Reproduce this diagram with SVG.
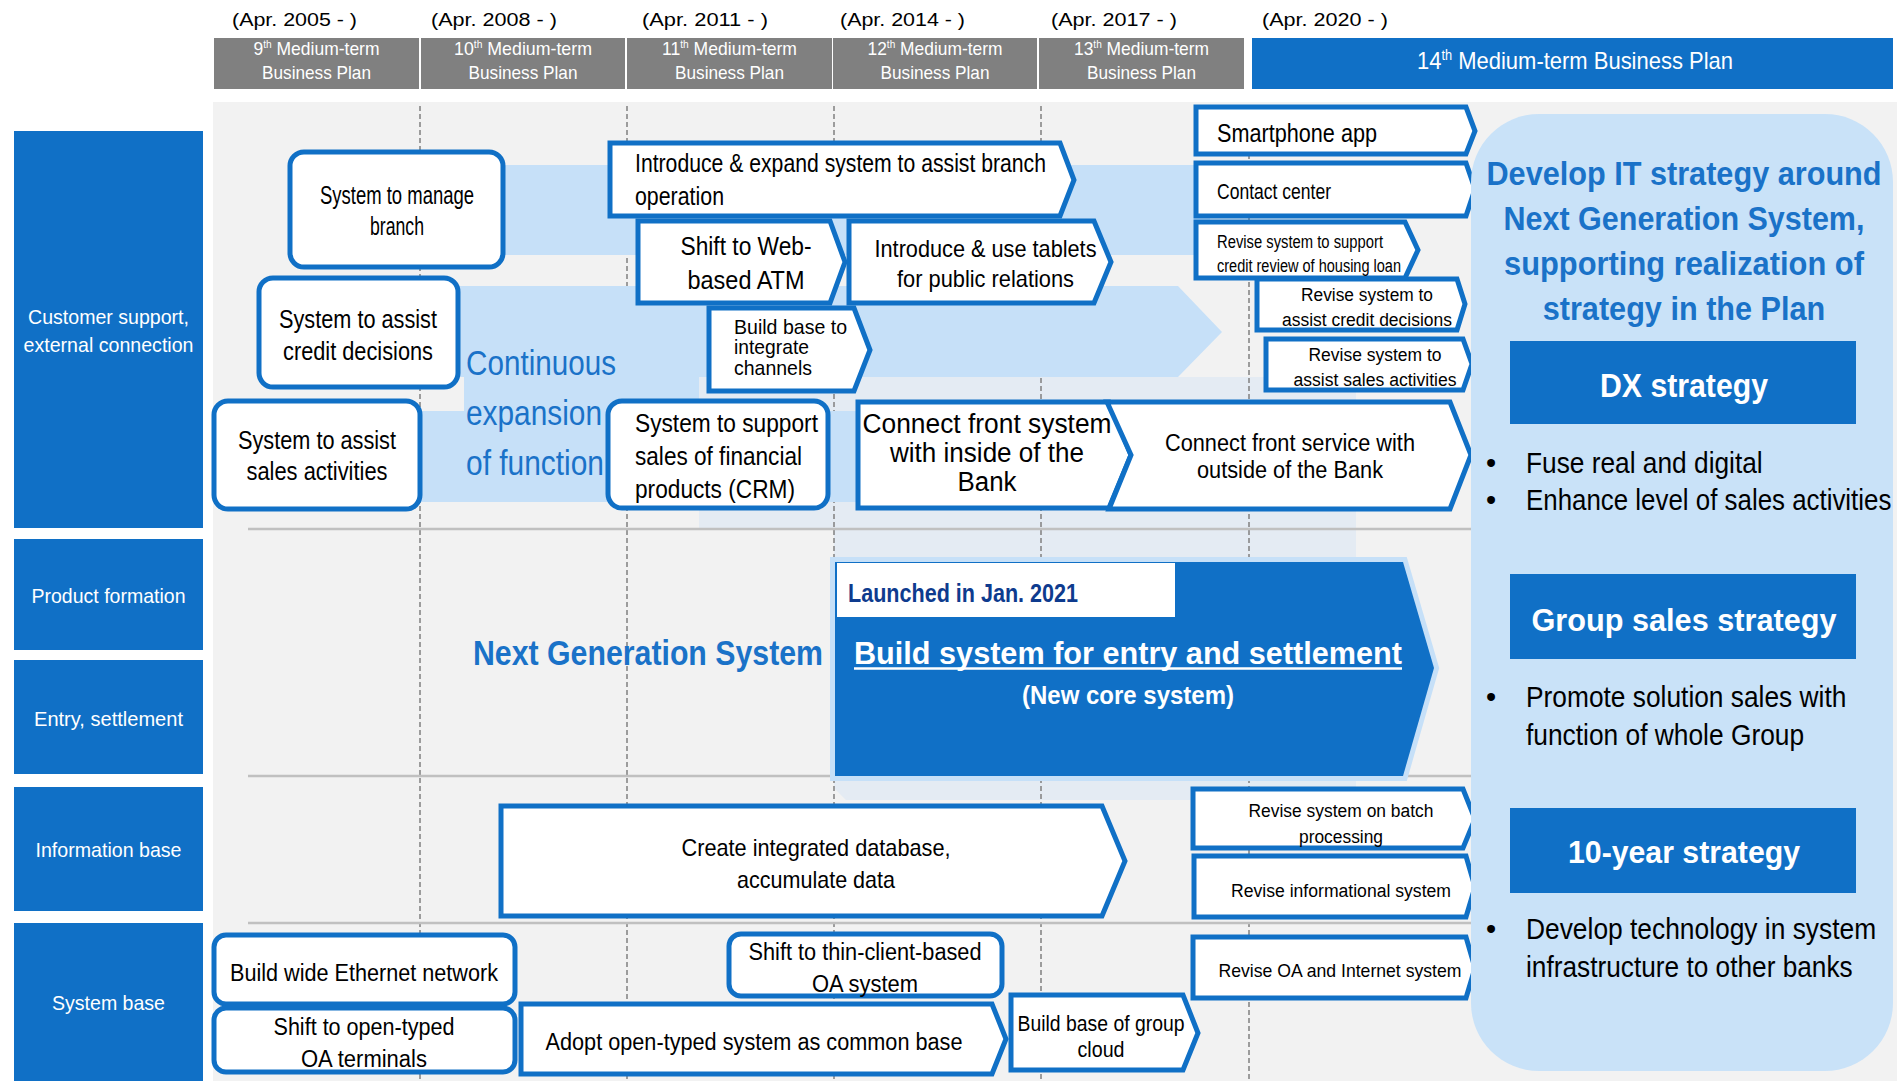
<svg xmlns="http://www.w3.org/2000/svg" width="1897" height="1081" viewBox="0 0 1897 1081">
<style>
.t{font-family:"Liberation Sans Narrow","Liberation Sans",Arial,sans-serif;fill:#000}
.w{fill:#fff}
.b{font-weight:bold}
.bl{fill:#1a72c8}
.box{fill:#fff;stroke:#1070c6;stroke-width:5;stroke-linejoin:miter}
.band{fill:#c6e0f8}
.lane{fill:#1070c6}
.hdr{fill:#808080}
.vd{stroke:#808080;stroke-width:1.5;stroke-dasharray:5 3;fill:none}
.hl{stroke:#c0c0c0;stroke-width:2.5;fill:none}
.sbox{fill:#1070c6}
</style>
<rect x="0" y="0" width="1897" height="1081" fill="#fff"/>
<rect x="213" y="102" width="1684" height="979" fill="#f2f2f2"/>
<polygon points="699,377 1356,377 1356,800 846,800 834,788 834,530 699,530" fill="#e4ebf3"/>
<g id="grid">
<line class="vd" x1="420" y1="106" x2="420" y2="1081"/>
<line class="vd" x1="627" y1="106" x2="627" y2="1081"/>
<line class="vd" x1="834" y1="106" x2="834" y2="1081"/>
<line class="vd" x1="1041" y1="106" x2="1041" y2="1081"/>
<line class="vd" x1="1249" y1="106" x2="1249" y2="1081"/>
<line class="hl" x1="248" y1="529" x2="1471" y2="529"/>
<line class="hl" x1="248" y1="776" x2="1471" y2="776"/>
<line class="hl" x1="248" y1="923" x2="1471" y2="923"/>
</g>
<g id="header">
<text class="t" x="232" y="26" font-size="18" textLength="125" lengthAdjust="spacingAndGlyphs">(Apr. 2005 - )</text>
<text class="t" x="431" y="26" font-size="18" textLength="126" lengthAdjust="spacingAndGlyphs">(Apr. 2008 - )</text>
<text class="t" x="642" y="26" font-size="18" textLength="126" lengthAdjust="spacingAndGlyphs">(Apr. 2011 - )</text>
<text class="t" x="840" y="26" font-size="18" textLength="125" lengthAdjust="spacingAndGlyphs">(Apr. 2014 - )</text>
<text class="t" x="1051" y="26" font-size="18" textLength="126" lengthAdjust="spacingAndGlyphs">(Apr. 2017 - )</text>
<text class="t" x="1262" y="26" font-size="18" textLength="126" lengthAdjust="spacingAndGlyphs">(Apr. 2020 - )</text>
<rect class="hdr" x="214" y="38" width="205" height="51"/>
<rect class="hdr" x="421" y="38" width="204" height="51"/>
<rect class="hdr" x="627" y="38" width="205" height="51"/>
<rect class="hdr" x="833" y="38" width="204" height="51"/>
<rect class="hdr" x="1039" y="38" width="205" height="51"/>
<rect class="sbox" x="1252" y="38" width="641" height="51"/>
<text class="t w" x="316.5" y="55" font-size="19" text-anchor="middle" textLength="126" lengthAdjust="spacingAndGlyphs">9<tspan font-size="11" dy="-7">th</tspan><tspan dy="7"> Medium-term</tspan></text>
<text class="t w" x="316.5" y="79" font-size="19" text-anchor="middle" textLength="109" lengthAdjust="spacingAndGlyphs">Business Plan</text>
<text class="t w" x="523" y="55" font-size="19" text-anchor="middle" textLength="138" lengthAdjust="spacingAndGlyphs">10<tspan font-size="11" dy="-7">th</tspan><tspan dy="7"> Medium-term</tspan></text>
<text class="t w" x="523" y="79" font-size="19" text-anchor="middle" textLength="109" lengthAdjust="spacingAndGlyphs">Business Plan</text>
<text class="t w" x="729.5" y="55" font-size="19" text-anchor="middle" textLength="135" lengthAdjust="spacingAndGlyphs">11<tspan font-size="11" dy="-7">th</tspan><tspan dy="7"> Medium-term</tspan></text>
<text class="t w" x="729.5" y="79" font-size="19" text-anchor="middle" textLength="109" lengthAdjust="spacingAndGlyphs">Business Plan</text>
<text class="t w" x="935" y="55" font-size="19" text-anchor="middle" textLength="135" lengthAdjust="spacingAndGlyphs">12<tspan font-size="11" dy="-7">th</tspan><tspan dy="7"> Medium-term</tspan></text>
<text class="t w" x="935" y="79" font-size="19" text-anchor="middle" textLength="109" lengthAdjust="spacingAndGlyphs">Business Plan</text>
<text class="t w" x="1141.5" y="55" font-size="19" text-anchor="middle" textLength="135" lengthAdjust="spacingAndGlyphs">13<tspan font-size="11" dy="-7">th</tspan><tspan dy="7"> Medium-term</tspan></text>
<text class="t w" x="1141.5" y="79" font-size="19" text-anchor="middle" textLength="109" lengthAdjust="spacingAndGlyphs">Business Plan</text>
<text class="t w" x="1575" y="69" font-size="24" text-anchor="middle" textLength="316" lengthAdjust="spacingAndGlyphs">14<tspan font-size="14" dy="-9">th</tspan><tspan dy="9"> Medium-term Business Plan</tspan></text>
</g>
<g id="lanes">
<g id="lane-customer"><rect class="lane" x="14" y="131" width="189" height="397"/>
<text class="t w" x="108.5" y="324" font-size="21" text-anchor="middle" textLength="161" lengthAdjust="spacingAndGlyphs">Customer support,</text>
<text class="t w" x="108.5" y="352" font-size="21" text-anchor="middle" textLength="170" lengthAdjust="spacingAndGlyphs">external connection</text></g>
<g id="lane-product"><rect class="lane" x="14" y="539" width="189" height="111"/>
<text class="t w" x="108.5" y="603" font-size="21" text-anchor="middle" textLength="154" lengthAdjust="spacingAndGlyphs">Product formation</text></g>
<g id="lane-entry"><rect class="lane" x="14" y="660" width="189" height="114"/>
<text class="t w" x="108.5" y="726" font-size="21" text-anchor="middle" textLength="149" lengthAdjust="spacingAndGlyphs">Entry, settlement</text></g>
<g id="lane-info"><rect class="lane" x="14" y="787" width="189" height="124"/>
<text class="t w" x="108.5" y="857" font-size="21" text-anchor="middle" textLength="146" lengthAdjust="spacingAndGlyphs">Information base</text></g>
<g id="lane-system"><rect class="lane" x="14" y="923" width="189" height="158"/>
<text class="t w" x="108.5" y="1010" font-size="21" text-anchor="middle" textLength="113" lengthAdjust="spacingAndGlyphs">System base</text></g>
</g>
<g id="connectors">
<rect class="band" x="495" y="165" width="715" height="90"/>
<polygon class="band" points="455,286 1178,286 1222,332 1178,377 699,377 699,411 1200,411 1200,502 420,502 420,411 464,411 464,377 455,377"/>
</g>
<g id="continuous-label">
<text class="t bl" x="466" y="375" font-size="35" textLength="150" lengthAdjust="spacingAndGlyphs">Continuous</text>
<text class="t bl" x="466" y="425" font-size="35" textLength="136" lengthAdjust="spacingAndGlyphs">expansion</text>
<text class="t bl" x="466" y="475" font-size="35" textLength="138" lengthAdjust="spacingAndGlyphs">of function</text>
</g>
<g id="n-manage-branch"><rect class="box" x="290" y="152" width="213" height="115" rx="14"/>
<text class="t" x="397" y="204" font-size="25" text-anchor="middle" textLength="154" lengthAdjust="spacingAndGlyphs">System to manage</text>
<text class="t" x="397" y="235" font-size="25" text-anchor="middle" textLength="54" lengthAdjust="spacingAndGlyphs">branch</text></g>
<g id="n-credit"><rect class="box" x="259" y="278" width="199" height="109" rx="14"/>
<text class="t" x="358" y="328" font-size="25" text-anchor="middle" textLength="158" lengthAdjust="spacingAndGlyphs">System to assist</text>
<text class="t" x="358" y="360" font-size="25" text-anchor="middle" textLength="150" lengthAdjust="spacingAndGlyphs">credit decisions</text></g>
<g id="n-sales"><rect class="box" x="214" y="401" width="206" height="108" rx="14"/>
<text class="t" x="317" y="449" font-size="25" text-anchor="middle" textLength="158" lengthAdjust="spacingAndGlyphs">System to assist</text>
<text class="t" x="317" y="480" font-size="25" text-anchor="middle" textLength="141" lengthAdjust="spacingAndGlyphs">sales activities</text></g>
<g id="n-introduce"><polygon class="box" points="610,143 1060,143 1074,180 1060,216 610,216"/>
<text class="t" x="635" y="172" font-size="25" textLength="411" lengthAdjust="spacingAndGlyphs">Introduce &amp; expand system to assist branch</text>
<text class="t" x="635" y="205" font-size="25" textLength="89" lengthAdjust="spacingAndGlyphs">operation</text></g>
<g id="n-atm"><polygon class="box" points="638,221 830,221 845,262 830,303 638,303"/>
<text class="t" x="746" y="255" font-size="26" text-anchor="middle" textLength="131" lengthAdjust="spacingAndGlyphs">Shift to Web-</text>
<text class="t" x="746" y="289" font-size="26" text-anchor="middle" textLength="117" lengthAdjust="spacingAndGlyphs">based ATM</text></g>
<g id="n-tablets"><polygon class="box" points="849,221 1094,221 1111,262 1094,303 849,303"/>
<text class="t" x="985.5" y="257" font-size="24" text-anchor="middle" textLength="222" lengthAdjust="spacingAndGlyphs">Introduce &amp; use tablets</text>
<text class="t" x="985.5" y="287" font-size="24" text-anchor="middle" textLength="177" lengthAdjust="spacingAndGlyphs">for public relations</text></g>
<g id="n-channels"><polygon class="box" points="709,308 854,308 870,350 854,391 709,391"/>
<text class="t" x="734" y="334" font-size="21" textLength="113" lengthAdjust="spacingAndGlyphs">Build base to</text>
<text class="t" x="734" y="354" font-size="21" textLength="75" lengthAdjust="spacingAndGlyphs">integrate</text>
<text class="t" x="734" y="375" font-size="21" textLength="78" lengthAdjust="spacingAndGlyphs">channels</text></g>
<g id="n-crm"><rect class="box" x="608" y="401" width="220" height="107" rx="14"/>
<text class="t" x="635" y="432" font-size="25" textLength="183" lengthAdjust="spacingAndGlyphs">System to support</text>
<text class="t" x="635" y="465" font-size="25" textLength="167" lengthAdjust="spacingAndGlyphs">sales of financial</text>
<text class="t" x="635" y="498" font-size="25" textLength="160" lengthAdjust="spacingAndGlyphs">products (CRM)</text></g>
<g id="n-front-inside"><polygon class="box" points="858,402 1109,402 1131,455 1109,508 858,508"/>
<text class="t" x="987" y="433" font-size="27" text-anchor="middle" textLength="249" lengthAdjust="spacingAndGlyphs">Connect front system</text>
<text class="t" x="987" y="462" font-size="27" text-anchor="middle" textLength="194" lengthAdjust="spacingAndGlyphs">with inside of the</text>
<text class="t" x="987" y="491" font-size="27" text-anchor="middle" textLength="59" lengthAdjust="spacingAndGlyphs">Bank</text></g>
<g id="n-front-outside"><polygon class="box" points="1107,402 1450,402 1471,455 1450,509 1109,509 1131,455"/>
<text class="t" x="1290" y="451" font-size="23" text-anchor="middle" textLength="250" lengthAdjust="spacingAndGlyphs">Connect front service with</text>
<text class="t" x="1290" y="478" font-size="23" text-anchor="middle" textLength="186" lengthAdjust="spacingAndGlyphs">outside of the Bank</text></g>
<g id="n-smartphone"><polygon class="box" points="1196,107 1466,107 1475,131 1466,154 1196,154"/>
<text class="t" x="1217" y="142" font-size="25" textLength="160" lengthAdjust="spacingAndGlyphs">Smartphone app</text></g>
<g id="n-contact"><polygon class="box" points="1196,163 1466,163 1475,189 1466,216 1196,216"/>
<text class="t" x="1217" y="199" font-size="22" textLength="114" lengthAdjust="spacingAndGlyphs">Contact center</text></g>
<g id="n-housing"><polygon class="box" points="1196,222 1405,222 1418,250 1405,278 1196,278"/>
<text class="t" x="1217" y="248" font-size="18" textLength="166" lengthAdjust="spacingAndGlyphs">Revise system to support</text>
<text class="t" x="1217" y="272" font-size="18" textLength="184" lengthAdjust="spacingAndGlyphs">credit review of housing loan</text></g>
<g id="n-revise-credit"><polygon class="box" points="1257,279 1457,279 1465,304 1457,330 1257,330"/>
<text class="t" x="1367" y="301" font-size="18" text-anchor="middle" textLength="132" lengthAdjust="spacingAndGlyphs">Revise system to</text>
<text class="t" x="1367" y="326" font-size="18" text-anchor="middle" textLength="170" lengthAdjust="spacingAndGlyphs">assist credit decisions</text></g>
<g id="n-revise-sales"><polygon class="box" points="1266,339 1463,339 1472,364 1463,390 1266,390"/>
<text class="t" x="1375" y="361" font-size="18" text-anchor="middle" textLength="133" lengthAdjust="spacingAndGlyphs">Revise system to</text>
<text class="t" x="1375" y="386" font-size="18" text-anchor="middle" textLength="163" lengthAdjust="spacingAndGlyphs">assist sales activities</text></g>
<g id="next-gen-label">
<text class="t bl b" x="473" y="665" font-size="35" textLength="350" lengthAdjust="spacingAndGlyphs">Next Generation System</text>
</g>
<g id="n-core">
<polygon points="835,562 1403,562 1434,668 1403,776 835,776" fill="#1070c6" stroke="#c6e0f8" stroke-width="10" stroke-linejoin="miter" paint-order="stroke"/>
<rect x="837" y="563" width="338" height="54" fill="#fff"/>
<text class="t b" x="848" y="602" font-size="25" style="fill:#0e3b8e" textLength="230" lengthAdjust="spacingAndGlyphs">Launched in Jan. 2021</text>
<text class="t w b" x="854" y="664" font-size="32" textLength="548" lengthAdjust="spacingAndGlyphs">Build system for entry and settlement</text>
<line x1="854" y1="668.5" x2="1402" y2="668.5" stroke="#fff" stroke-width="2.5"/>
<text class="t w b" x="1128" y="704" font-size="25" text-anchor="middle" textLength="212" lengthAdjust="spacingAndGlyphs">(New core system)</text>
</g>
<g id="n-database"><polygon class="box" points="501,806 1102,806 1125,861 1102,916 501,916"/>
<text class="t" x="816" y="856" font-size="24" text-anchor="middle" textLength="269" lengthAdjust="spacingAndGlyphs">Create integrated database,</text>
<text class="t" x="816" y="888" font-size="24" text-anchor="middle" textLength="158" lengthAdjust="spacingAndGlyphs">accumulate data</text></g>
<g id="n-batch"><polygon class="box" points="1193,789 1463,789 1475,819 1463,848 1193,848"/>
<text class="t" x="1341" y="817" font-size="18" text-anchor="middle" textLength="185" lengthAdjust="spacingAndGlyphs">Revise system on batch</text>
<text class="t" x="1341" y="843" font-size="18" text-anchor="middle" textLength="84" lengthAdjust="spacingAndGlyphs">processing</text></g>
<g id="n-informational"><polygon class="box" points="1194,856 1466,856 1475,887 1466,917 1194,917"/>
<text class="t" x="1341" y="897" font-size="18" text-anchor="middle" textLength="220" lengthAdjust="spacingAndGlyphs">Revise informational system</text></g>
<g id="n-oa-internet"><polygon class="box" points="1193,937 1466,937 1475,968 1466,998 1193,998"/>
<text class="t" x="1340" y="977" font-size="19" text-anchor="middle" textLength="243" lengthAdjust="spacingAndGlyphs">Revise OA and Internet system</text></g>
<g id="n-ethernet"><rect class="box" x="214" y="935" width="301" height="69" rx="12"/>
<text class="t" x="364" y="981" font-size="23" text-anchor="middle" textLength="268" lengthAdjust="spacingAndGlyphs">Build wide Ethernet network</text></g>
<g id="n-oa-terminals"><rect class="box" x="214" y="1008" width="301" height="64" rx="12"/>
<text class="t" x="364" y="1035" font-size="23" text-anchor="middle" textLength="181" lengthAdjust="spacingAndGlyphs">Shift to open-typed</text>
<text class="t" x="364" y="1067" font-size="23" text-anchor="middle" textLength="126" lengthAdjust="spacingAndGlyphs">OA terminals</text></g>
<g id="n-common-base"><polygon class="box" points="521,1004 992,1004 1006,1039 992,1074 521,1074"/>
<text class="t" x="754" y="1050" font-size="23" text-anchor="middle" textLength="417" lengthAdjust="spacingAndGlyphs">Adopt open-typed system as common base</text></g>
<g id="n-thin-client"><rect class="box" x="729" y="934" width="273" height="62" rx="12"/>
<text class="t" x="865" y="960" font-size="23" text-anchor="middle" textLength="233" lengthAdjust="spacingAndGlyphs">Shift to thin-client-based</text>
<text class="t" x="865" y="992" font-size="23" text-anchor="middle" textLength="106" lengthAdjust="spacingAndGlyphs">OA system</text></g>
<g id="n-cloud"><polygon class="box" points="1011,995 1183,995 1198,1033 1183,1070 1011,1070"/>
<text class="t" x="1101" y="1031" font-size="22" text-anchor="middle" textLength="167" lengthAdjust="spacingAndGlyphs">Build base of group</text>
<text class="t" x="1101" y="1057" font-size="22" text-anchor="middle" textLength="47" lengthAdjust="spacingAndGlyphs">cloud</text></g>
<g id="n-strategy">
<rect x="1471" y="114" width="422" height="957" rx="68" ry="68" fill="#c9e2f8"/>
<text class="t bl b" transform="translate(1684 185) scale(0.9 1)" x="0" y="0" font-size="34" text-anchor="middle" textLength="439" lengthAdjust="spacingAndGlyphs">Develop IT strategy around</text>
<text class="t bl b" transform="translate(1684 230) scale(0.9 1)" x="0" y="0" font-size="34" text-anchor="middle" textLength="401" lengthAdjust="spacingAndGlyphs">Next Generation System,</text>
<text class="t bl b" transform="translate(1684 275) scale(0.9 1)" x="0" y="0" font-size="34" text-anchor="middle" textLength="400" lengthAdjust="spacingAndGlyphs">supporting realization of</text>
<text class="t bl b" transform="translate(1684 320) scale(0.9 1)" x="0" y="0" font-size="34" text-anchor="middle" textLength="314" lengthAdjust="spacingAndGlyphs">strategy in the Plan</text>
<rect class="sbox" x="1510" y="341" width="346" height="83"/>
<text class="t w b" x="1684" y="397" font-size="33" text-anchor="middle" textLength="168" lengthAdjust="spacingAndGlyphs">DX strategy</text>
<text class="t" x="1486" y="473" font-size="29">•</text>
<text class="t" transform="translate(1526 473) scale(0.9 1)" x="0" y="0" font-size="29" textLength="263" lengthAdjust="spacingAndGlyphs">Fuse real and digital</text>
<text class="t" x="1486" y="510" font-size="29">•</text>
<text class="t" transform="translate(1526 510) scale(0.9 1)" x="0" y="0" font-size="29" textLength="406" lengthAdjust="spacingAndGlyphs">Enhance level of sales activities</text>
<rect class="sbox" x="1510" y="574" width="346" height="85"/>
<text class="t w b" x="1684" y="631" font-size="32" text-anchor="middle" textLength="305" lengthAdjust="spacingAndGlyphs">Group sales strategy</text>
<text class="t" x="1486" y="707" font-size="29">•</text>
<text class="t" transform="translate(1526 707) scale(0.9 1)" x="0" y="0" font-size="29" textLength="356" lengthAdjust="spacingAndGlyphs">Promote solution sales with</text>
<text class="t" transform="translate(1526 745) scale(0.9 1)" x="0" y="0" font-size="29" textLength="309" lengthAdjust="spacingAndGlyphs">function of whole Group</text>
<rect class="sbox" x="1510" y="808" width="346" height="85"/>
<text class="t w b" x="1684" y="863" font-size="32" text-anchor="middle" textLength="232" lengthAdjust="spacingAndGlyphs">10-year strategy</text>
<text class="t" x="1486" y="939" font-size="29">•</text>
<text class="t" transform="translate(1526 939) scale(0.9 1)" x="0" y="0" font-size="29" textLength="389" lengthAdjust="spacingAndGlyphs">Develop technology in system</text>
<text class="t" transform="translate(1526 977) scale(0.9 1)" x="0" y="0" font-size="29" textLength="363" lengthAdjust="spacingAndGlyphs">infrastructure to other banks</text>
</g>
</svg>
